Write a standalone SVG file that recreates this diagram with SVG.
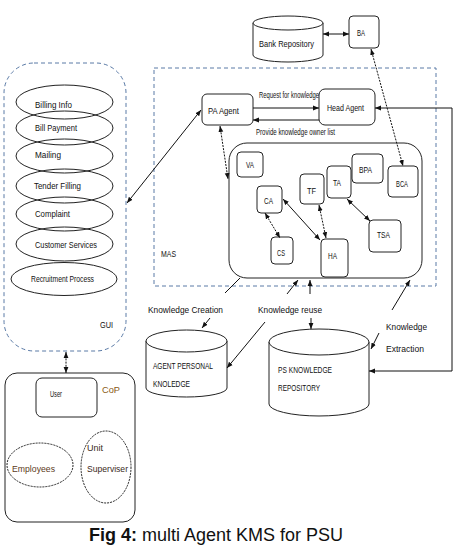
<svg xmlns="http://www.w3.org/2000/svg" width="454" height="548" viewBox="0 0 454 548">
<style>
text{font-family:"Liberation Sans",Arial,sans-serif;font-size:9px;fill:#111}
.box{fill:#fff;stroke:#222;stroke-width:1}
.ell{fill:none;stroke:#222;stroke-width:1}
.dash{fill:none;stroke:#5a7aa6;stroke-width:1;stroke-dasharray:4,3}
.c{fill:none;stroke:#111;stroke-width:1}
.dot{stroke-dasharray:2,1.2}
.cap{font-size:18px;fill:#111}
</style>
<defs>
<marker id="ah" viewBox="0 0 10 10" refX="10" refY="5" markerWidth="6" markerHeight="6" markerUnits="userSpaceOnUse" orient="auto-start-reverse"><path d="M0,1 L10,5 L0,9 z" fill="#111"/></marker>
</defs>

<g id="gui">
<rect x="4" y="63" width="122" height="288" rx="30" ry="30" class="dash"/>
<text x="100" y="328" font-size="10" textLength="13" lengthAdjust="spacingAndGlyphs">GUI</text>
</g>
<g id="billing-info"><ellipse cx="64.5" cy="102" rx="48.5" ry="17" class="ell"/><text x="35" y="108" textLength="37" lengthAdjust="spacingAndGlyphs">Billing Info</text></g>
<g id="bill-payment"><ellipse cx="64.5" cy="128" rx="48.5" ry="17" class="ell"/><text x="35" y="131" textLength="42" lengthAdjust="spacingAndGlyphs">Bill Payment</text></g>
<g id="mailing"><ellipse cx="64.5" cy="156" rx="48.5" ry="17" class="ell"/><text x="35" y="158" textLength="26" lengthAdjust="spacingAndGlyphs">Mailing</text></g>
<g id="tender-filling"><ellipse cx="64.5" cy="186" rx="48.5" ry="17" class="ell"/><text x="34" y="189" textLength="47" lengthAdjust="spacingAndGlyphs">Tender Filling</text></g>
<g id="complaint"><ellipse cx="64.5" cy="214" rx="48.5" ry="17" class="ell"/><text x="35" y="217" textLength="35" lengthAdjust="spacingAndGlyphs">Complaint</text></g>
<g id="customer-services"><ellipse cx="64.5" cy="244" rx="48.5" ry="17" class="ell"/><text x="35" y="248" textLength="62" lengthAdjust="spacingAndGlyphs">Customer Services</text></g>
<g id="recruitment-process"><ellipse cx="64" cy="279" rx="53" ry="16.5" class="ell"/><text x="31" y="282" textLength="63" lengthAdjust="spacingAndGlyphs">Recruitment Process</text></g>

<g id="mas">
<rect x="154" y="68" width="282" height="218" class="dash"/>
<text x="161" y="257" textLength="15" lengthAdjust="spacingAndGlyphs">MAS</text>
</g>

<g id="bank-repository">
<path d="M253,23 L253,55 A35,7 0 0 0 323,55 L323,23" class="box"/>
<ellipse cx="288" cy="23" rx="35" ry="7" class="box"/>
<text x="259" y="47" textLength="55" lengthAdjust="spacingAndGlyphs">Bank Repository</text>
</g>
<g id="ba"><rect x="349" y="16" width="30" height="32" rx="4" class="box"/><text x="357" y="36" textLength="8" lengthAdjust="spacingAndGlyphs">BA</text></g>
<g id="pa-agent"><rect x="202" y="94" width="51" height="31" rx="5" class="box"/><text x="208" y="114" textLength="31" lengthAdjust="spacingAndGlyphs">PA Agent</text></g>
<g id="head-agent"><rect x="319" y="89" width="56" height="36" rx="6" class="box"/><text x="327" y="111" textLength="37" lengthAdjust="spacingAndGlyphs">Head Agent</text></g>

<g id="agents">
<rect x="229" y="143" width="193" height="135" rx="18" class="box"/>
</g>
<g id="va"><rect x="237" y="152" width="26" height="25" rx="4" class="box"/><text x="246" y="168" textLength="8" lengthAdjust="spacingAndGlyphs">VA</text></g>
<g id="ca"><rect x="257" y="186" width="25" height="27" rx="4" class="box"/><text x="264" y="204" textLength="9" lengthAdjust="spacingAndGlyphs">CA</text></g>
<g id="tf"><rect x="300" y="174" width="24" height="30" rx="4" class="box"/><text x="307" y="194" textLength="9" lengthAdjust="spacingAndGlyphs">TF</text></g>
<g id="ta"><rect x="327" y="166" width="24" height="32" rx="4" class="box"/><text x="333" y="186" textLength="8" lengthAdjust="spacingAndGlyphs">TA</text></g>
<g id="bpa"><rect x="352" y="154" width="31" height="29" rx="4" class="box"/><text x="359" y="173" textLength="13" lengthAdjust="spacingAndGlyphs">BPA</text></g>
<g id="bca"><rect x="388" y="166" width="30" height="31" rx="4" class="box"/><text x="396" y="187" textLength="12" lengthAdjust="spacingAndGlyphs">BCA</text></g>
<g id="tsa"><rect x="369" y="220" width="32" height="32" rx="4" class="box"/><text x="377" y="238" textLength="13" lengthAdjust="spacingAndGlyphs">TSA</text></g>
<g id="cs"><rect x="271" y="237" width="22" height="27" rx="4" class="box"/><text x="277" y="256" textLength="8" lengthAdjust="spacingAndGlyphs">CS</text></g>
<g id="ha"><rect x="321" y="239" width="27" height="38" rx="4" class="box"/><text x="328" y="259" textLength="9" lengthAdjust="spacingAndGlyphs">HA</text></g>

<g id="agent-personal-knowledge">
<path d="M146,341 L146,388 A40.5,9 0 0 0 227,388 L227,341" class="box"/>
<ellipse cx="186.5" cy="341" rx="40.5" ry="11" class="box"/>
<text x="153" y="369" font-size="8" textLength="60" lengthAdjust="spacingAndGlyphs">AGENT PERSONAL</text>
<text x="153" y="387" font-size="8" textLength="37" lengthAdjust="spacingAndGlyphs">KNOLEDGE</text>
</g>
<g id="ps-knowledge-repository">
<path d="M269,342 L269,404 A50,12 0 0 0 369,404 L369,342" class="box"/>
<ellipse cx="319" cy="342" rx="50" ry="13" class="box"/>
<text x="278" y="373" font-size="8" textLength="54" lengthAdjust="spacingAndGlyphs">PS KNOWLEDGE</text>
<text x="278" y="391" font-size="8" textLength="42" lengthAdjust="spacingAndGlyphs">REPOSITORY</text>
</g>

<g id="cop">
<rect x="5" y="373" width="130" height="149" rx="12" class="ell"/>
<text x="102" y="393" font-size="13" fill="#8a5a12" style="fill:#8a5a12" textLength="18" lengthAdjust="spacingAndGlyphs">CoP</text>
</g>
<g id="user"><rect x="36" y="378" width="61" height="39" rx="6" class="box"/><text x="50" y="397" textLength="12" lengthAdjust="spacingAndGlyphs">User</text></g>
<g id="employees"><ellipse cx="40" cy="465" rx="33" ry="22" class="ell" stroke-dasharray="2,1"/><text x="12" y="472" font-size="11" style="fill:#5c3a1a" textLength="43" lengthAdjust="spacingAndGlyphs">Employees</text></g>
<g id="unit-superviser"><ellipse cx="106" cy="467" rx="25" ry="36" class="ell" stroke-dasharray="2,1"/><text x="87" y="451" font-size="11" style="fill:#3a2a1a" textLength="16" lengthAdjust="spacingAndGlyphs">Unit</text><text x="87" y="472" font-size="11" style="fill:#3a2a1a" textLength="41" lengthAdjust="spacingAndGlyphs">Superviser</text></g>

<g id="connectors">
<path d="M323,34 L349,34" class="c" marker-start="url(#ah)" marker-end="url(#ah)"/>
<path d="M371,49 L403,166" class="c dot" marker-start="url(#ah)" marker-end="url(#ah)"/>
<path d="M253,108 L319,108" class="c" marker-end="url(#ah)"/>
<path d="M319,120 L253,120" class="c" marker-end="url(#ah)"/>
<path d="M452,371 L452,108 L375,108" class="c" marker-end="url(#ah)"/>
<path d="M452,371 L369,371" class="c" marker-end="url(#ah)"/>
<path d="M201,110 L127,203" class="c" marker-start="url(#ah)" marker-end="url(#ah)"/>
<path d="M220,126 L228,179" class="c dot" marker-start="url(#ah)" marker-end="url(#ah)"/>
<path d="M265,213 L280,238" class="c dot" marker-start="url(#ah)" marker-end="url(#ah)"/>
<path d="M283,199 L320,240" class="c" marker-start="url(#ah)" marker-end="url(#ah)"/>
<path d="M319,205 L326,238" class="c dot" marker-start="url(#ah)" marker-end="url(#ah)"/>
<path d="M347,199 L370,221" class="c" marker-start="url(#ah)" marker-end="url(#ah)"/>
<path d="M66,352 L66,373" class="c dot" marker-start="url(#ah)" marker-end="url(#ah)"/>
<path d="M240,278 L225,293" class="c"/>
<path d="M210,318 L202,328" class="c" marker-end="url(#ah)"/>
<path d="M287,294 L298,280" class="c" marker-end="url(#ah)"/>
<path d="M310,294 L310,280" class="c" marker-end="url(#ah)"/>
<path d="M311,318 L311,329" class="c" marker-end="url(#ah)"/>
<path d="M265,322 L227,368" class="c" marker-end="url(#ah)"/>
<path d="M392,310 L410,280" class="c" marker-end="url(#ah)"/>
<path d="M379,333 L371,349" class="c" marker-end="url(#ah)"/>
<text x="259" y="98" font-size="8" textLength="60" lengthAdjust="spacingAndGlyphs">Request for knowledge</text>
<text x="256" y="135" font-size="8" textLength="79" lengthAdjust="spacingAndGlyphs">Provide knowledge owner list</text>
<text x="148" y="313" font-size="10" textLength="75" lengthAdjust="spacingAndGlyphs">Knowledge Creation</text>
<text x="258" y="313" font-size="10" textLength="64" lengthAdjust="spacingAndGlyphs">Knowledge reuse</text>
<text x="386" y="330" font-size="10" textLength="41" lengthAdjust="spacingAndGlyphs">Knowledge</text>
<text x="386" y="352" font-size="10" textLength="38" lengthAdjust="spacingAndGlyphs">Extraction</text>
</g>

<text x="89" y="541" class="cap"><tspan font-weight="bold">Fig 4:</tspan> multi Agent KMS for PSU</text>
</svg>
